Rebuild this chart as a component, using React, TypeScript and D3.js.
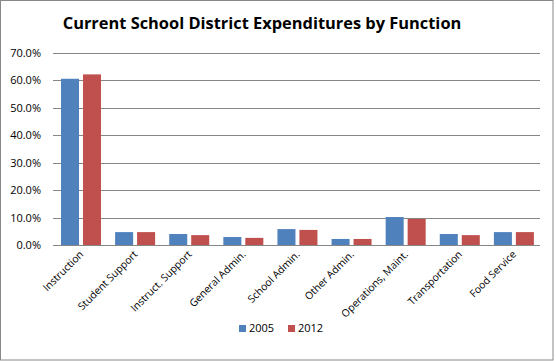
import React, { useEffect, useRef } from "react";
import * as d3 from "d3";

const categories = [
  "Instruction",
  "Student Support",
  "Instruct. Support",
  "General Admin.",
  "School Admin.",
  "Other Admin.",
  "Operations, Maint.",
  "Transportation",
  "Food Service",
];
const seriesNames = ["2005", "2012"];
const values2005 = [0.606, 0.047, 0.04, 0.029, 0.058, 0.022, 0.102, 0.04, 0.047];
const values2012 = [0.622, 0.047, 0.036, 0.026, 0.055, 0.022, 0.095, 0.036, 0.047];
const yTicks = [0, 0.1, 0.2, 0.3, 0.4, 0.5, 0.6, 0.7];
const colors = ["#4F81BD", "#C0504D"];

const W = 556;
const H = 361;
const FONT = "'Open Sans', 'DejaVu Sans', sans-serif";

const App = () => {
  const ref = useRef<SVGSVGElement>(null);

  useEffect(() => {
    const svg = d3.select(ref.current);
    svg.selectAll("*").remove();

    const plot = { left: 53, right: 540, top: 53, bottom: 245 };

    // frame
    svg
      .append("rect")
      .attr("x", 0.5)
      .attr("y", 0.5)
      .attr("width", 552.5)
      .attr("height", 359.5)
      .attr("fill", "#fff")
      .attr("stroke", "#888")
      .attr("stroke-width", 1);

    svg
      .append("text")
      .attr("x", 262)
      .attr("y", 29)
      .attr("text-anchor", "middle")
      .attr("font-family", FONT)
      .attr("font-weight", "bold")
      .attr("font-size", 16.4)
      .text("Current School District Expenditures by Function");

    const y = d3.scaleLinear().domain([0, 0.7]).range([plot.bottom, plot.top]);
    const x0 = d3.scaleBand().domain(categories).range([plot.left, plot.right]);
    const x1 = d3
      .scaleBand()
      .domain(seriesNames)
      .range([8, 48])
      .paddingInner(0.18);

    // gridlines
    svg
      .append("g")
      .selectAll("line")
      .data(yTicks)
      .join("line")
      .attr("x1", plot.left)
      .attr("x2", plot.right)
      .attr("y1", (d) => Math.round(y(d)) + 0.5)
      .attr("y2", (d) => Math.round(y(d)) + 0.5)
      .attr("stroke", "#868686")
      .attr("stroke-width", 1);

    svg
      .append("g")
      .selectAll("text")
      .data(yTicks)
      .join("text")
      .attr("x", 41)
      .attr("y", (d) => y(d) + 4)
      .attr("text-anchor", "end")
      .attr("font-family", FONT)
      .attr("font-size", 11)
      .text((d) => d3.format(".1%")(d));

    const data = [values2005, values2012];
    data.forEach((vals, s) => {
      svg
        .append("g")
        .selectAll("rect")
        .data(vals)
        .join("rect")
        .attr("x", (d, i) => x0(categories[i])! + x1(seriesNames[s])!)
        .attr("y", (d) => y(d))
        .attr("width", x1.bandwidth())
        .attr("height", (d) => plot.bottom - y(d))
        .attr("fill", colors[s]);
    });

    // category labels
    svg
      .append("g")
      .selectAll("text")
      .data(categories)
      .join("text")
      .attr("transform", (d) => `translate(${x0(d)! + x0.bandwidth() / 2 + 4},${plot.bottom + 10}) rotate(-45)`)
      .attr("text-anchor", "end")
      .attr("font-family", FONT)
      .attr("font-size", 10.3)
      .text((d) => d);

    // legend
    const legend = svg.append("g");
    seriesNames.forEach((name, s) => {
      const lx = 239 + s * 49;
      legend
        .append("rect")
        .attr("x", lx)
        .attr("y", 325)
        .attr("width", 7)
        .attr("height", 7)
        .attr("fill", colors[s]);
      legend
        .append("text")
        .attr("x", lx + 10)
        .attr("y", 332)
        .attr("font-family", FONT)
        .attr("font-size", 11)
        .text(name);
    });
  }, []);

  return (
    <svg
      ref={ref}
      width={W}
      height={H}
      style={{ position: "absolute", left: 0, top: 0 }}
    />
  );
};

export default App;
